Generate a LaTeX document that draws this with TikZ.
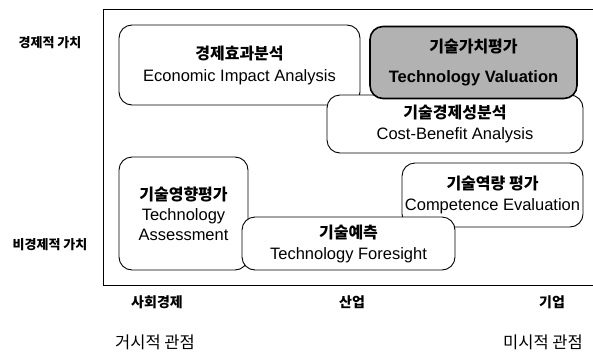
\documentclass[tikz,border=0pt]{standalone}
\usepackage{fontspec}
\setmainfont{Liberation Sans}
\newfontfamily\kr{Noto Sans CJK KR}
\begin{document}
\begin{tikzpicture}[x=1pt,y=-1pt,
  box/.style={draw=black,line width=0.9pt,rounded corners=13pt,fill=white,align=center,inner sep=0pt,font=\fontsize{16.5}{20}\selectfont},
  shade/.style={box,fill=black!30,line width=1.6pt},
  lab/.style={font=\kr\bfseries\fontsize{13}{15}\selectfont},
  axl/.style={font=\kr\bfseries\fontsize{14}{16}\selectfont},
  persp/.style={font=\kr\fontsize{16.5}{18}\selectfont}]
\newcommand\krb[1]{{\kr\bfseries\fontsize{16}{17}\selectfont #1}}
\useasboundingbox (0,0) rectangle (593,356);
\coordinate (tl) at (103,9);
\coordinate (tr) at (593,9);
\coordinate (bl) at (103,285);
\coordinate (br) at (593,285);
\draw[line width=0.9pt] (tr) -- (tl) -- (bl) -- (br);

\node[box,minimum width=241pt,minimum height=80pt] (eia) at (239.5,65)
  {\krb{경제효과분석}\\[2pt]Economic Impact Analysis};
\node[box,minimum width=256pt,minimum height=58pt] (cba) at (455,124)
  {\krb{기술경제성분석}\\[1pt]Cost-Benefit Analysis};
\node[shade,minimum width=207pt,minimum height=72pt] (tv) at (473.5,62.5)
  {\krb{기술가치평가}\\[10pt]\bfseries Technology Valuation};
\node[box,minimum width=181pt,minimum height=64pt] (ce) at (492.5,195)
  {\krb{기술역량 평가}\\[1pt]Competence Evaluation};
\node[box,minimum width=129pt,minimum height=113pt] (ta) at (183.5,213.5)
  {\krb{기술영향평가}\\Technology\\Assessment};
\node[box,minimum width=213pt,minimum height=53pt] (tf) at (348.5,243.5)
  {\krb{기술예측}\\[1pt]Technology Foresight};

\node[lab] (ev) at (50,43) {경제적 가치};
\node[lab] (nev) at (50,245) {비경제적 가치};
\node[axl] (se) at (157,302) {사회경제};
\node[axl] (ind) at (352,302) {산업};
\node[axl] (firm) at (552,302) {기업};
\node[persp] (macro) at (155,342) {거시적 관점};
\node[persp] (micro) at (543,342) {미시적 관점};
\end{tikzpicture}
\end{document}
